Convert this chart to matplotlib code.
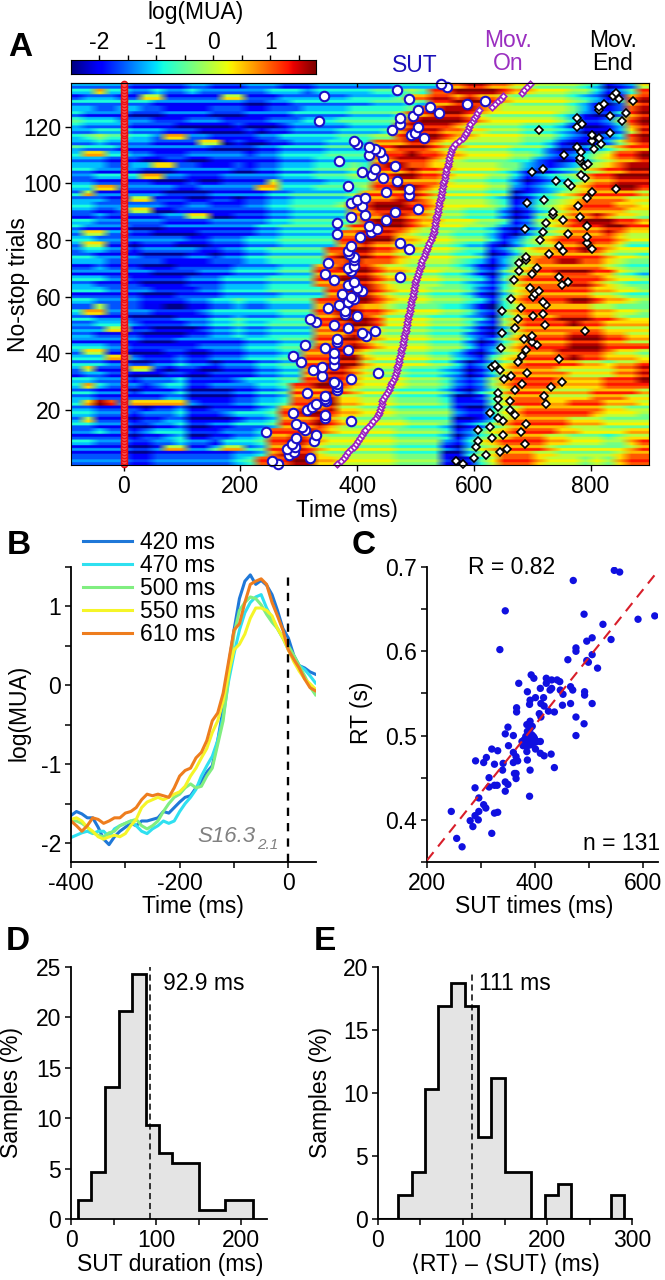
import matplotlib
matplotlib.use("Agg")
import matplotlib.pyplot as plt
import numpy as np

plt.rcParams['font.family'] = ['Liberation Sans', 'DejaVu Sans']
W, H = 665, 1280
n = np.nan

# panel A: colour levels, top row = trials 134-135, 20 ms per cell
heat_rows = """
33333 22222 33222 33322 23333 33344 44889 98877 66665 41237
33733 22322 32222 22333 23333 34445 48899 99877 66655 31248
23332 27722 22277 22233 33334 44458 89989 88766 66654 31289
33333 33222 22222 11223 33333 34445 48899 98766 66654 21389
33223 32211 11222 11222 33334 44445 88999 87666 66653 11289
32222 11122 22111 22223 33334 44458 89998 76666 66542 11389
43332 22111 22211 11222 33344 44458 99998 76666 66531 12589
43333 22221 11112 11123 33334 44489 99987 66665 55421 12489
33444 33322 21111 21223 33344 44589 99887 76665 55431 11379
34544 33277 22111 12233 33344 45589 99877 66665 55321 12389
33433 33222 27712 11223 33444 48889 98776 66665 54211 23689
43332 22222 22111 12233 33444 48899 98776 66655 53112 45788
37733 22111 22222 12233 33444 48889 88776 66655 42123 56889
33322 21122 11222 22233 34444 48899 98776 66655 32124 67889
33322 33772 21112 12233 34445 48998 87766 66553 21235 67899
33222 21112 22221 12233 34445 48889 88766 66542 12346 78899
22333 37722 11122 22233 34445 58899 88766 65531 23457 88999
33222 22111 21122 22733 33445 58888 88766 65531 23457 88999
33772 22221 12222 27733 34444 58899 87666 65521 23467 88998
37222 22211 11222 22334 44445 88889 87666 65512 34678 88887
33322 77222 11221 22334 44445 88899 87666 65412 45678 88877
33222 22211 22111 22334 44458 89998 87666 65412 45678 88776
33223 77112 22222 22334 44448 89999 87665 55312 45788 88877
22322 22233 77112 22334 44448 88998 87665 55312 56788 98776
33222 22211 11222 22334 44445 89998 77666 55412 56789 99887
32222 11122 22222 23344 44458 89998 76665 54212 46788 89988
37733 22111 12222 23344 44488 99987 66655 54213 56788 89877
33222 22222 11222 33344 44488 99977 66655 53124 67888 88766
37722 12221 11222 33344 44488 98877 66654 42135 67889 88755
23322 12222 21122 33444 44889 98877 66654 41246 77889 87666
33222 21111 22122 33444 44899 98876 66655 41247 78888 87665
33322 22211 11222 33444 44889 88876 66654 31357 88998 87655
22322 21112 22223 33344 48899 98776 66654 21367 88888 87655
22222 22111 12223 33344 48889 98776 66554 21467 88999 88654
33322 11111 22233 33444 48899 98776 66554 31478 88888 87665
33222 21111 22233 33444 48889 98766 66554 32478 88899 87655
33322 22111 12233 33444 44889 98766 65554 21467 88888 77665
22222 21112 22233 33344 44889 98766 65554 21478 88888 77655
33222 21111 22334 33444 48889 98766 65554 31478 88899 87765
33733 32211 22334 33444 48899 88766 66554 21578 88888 77666
37722 22111 12333 33344 48899 88766 66554 21578 88888 77665
33222 11112 22334 33344 48899 98666 65554 31578 88999 88766
22333 21111 22334 33444 48889 98666 65554 21578 88898 87777
33377 22111 12334 33444 48899 87666 65554 21478 88888 87777
33222 21111 22334 33444 48889 87666 65553 21478 88899 98877
22222 21112 22222 33344 48899 87666 65553 12578 88899 98877
33322 11111 12222 33344 48889 87666 65553 12578 88899 98888
37722 11122 11222 33344 88998 76666 65542 13678 88999 98776
33377 21112 11222 33344 88899 76666 65532 14678 88898 87776
33322 11223 22122 23344 88999 76666 65531 24678 88887 76778
37222 77212 21122 23344 88998 76665 55431 24788 88777 77889
23322 11122 11222 23344 88998 76665 55431 24788 88877 77889
33222 12223 11112 33344 88987 66665 55421 25788 88777 78889
37322 21233 11222 23348 89987 66665 55421 25788 88777 78888
33222 12223 11112 23348 88987 66655 55421 35788 87777 88887
33222 22233 11112 23348 88977 66655 55411 25788 87777 88877
37982 77777 21112 23348 89977 66655 55411 14688 87788 87776
33222 21223 11222 23488 98977 66655 55521 14678 88888 87766
33222 12223 11123 33488 99877 66655 55521 13678 88888 76665
37222 12233 11112 33488 89876 66665 55511 24788 88877 76666
33222 11223 11223 33488 89876 66665 55412 35788 88877 76666
22322 12333 11122 23888 98766 66655 55412 46788 88776 66677
22222 12234 11223 34889 87666 66655 55413 56788 87766 65677
33222 11223 22133 34889 87666 66655 55213 67888 87766 65578
22222 11277 22477 34889 87666 66655 55214 67888 87666 66678
22222 11222 22223 34899 97666 66655 55114 67888 77666 66788
22222 11222 22223 48889 97766 66655 55101 46888 76665 65788
""".split("\n")
heat_rows = [r.replace(" ", "") for r in heat_rows if r.strip()]
level_values = np.array([-2.45, -2.0, -1.6, -1.15, -0.8, -0.4, 0.0, 0.4, 1.0, 1.6])
# lighter / darker streaks per trial, trial 135 first
trial_gain = "0-+0-0+-00+-0+0-0-+00-+-0+0-00+-+0-0+0-+-00+0-0-+0+-0-0+0-+0-+00-0+-0+-00+-0+0--+0-+0+-0-0+-0+0-0+-+0-0-+0+0-+-00+-0+0-0+-0+-0+0-+-00+"

# trial by trial times (ms), trial 1 first
sut_ms = [265, 254, 320, 284, 292, 280, 294, 289, 326, 295,
          329, 244, 310, 305, 295, 389, 345, 345, 290, 315,
          323, 329, 347, 345, 345, 315, 365, 365, 365, 360,
          389, 340, 435, 324, 340, 360, 304, 360, 290, 360,
          384, 345, 310, 365, 365, 415, 409, 430, 385, 360,
          329, 320, 400, 380, 380, 350, 369, 385, 395, 389,
          375, 409, 400, 385, 395, 360, 474, 345, 389, 384,
          395, 350, 395, 395, 387, 384, 489, 389, 474, n,
          405, 365, 424, 434, 420, 365, 449, 389, 414, 465,
          505, 409, 389, 400, 414, 489, 449, 489, 385, n,
          469, 445, 425, 409, 430, 465, n, 369, 445, 420,
          440, 430, 420, 400, 395, 515, 493, 500, 460, 505,
          474, 334, 474, 495, 540, 505, 525, 589, 619, 489,
          344, n, 469, 554, 544]
mov_on_ms = [365, 372, 377, 381, 385, 390, 394, 398, 402, 405,
             409, 411, 413, 418, 423, 428, 432, 435, 437, 439,
             441, 442, 443, 445, 447, 451, 454, 456, 458, 460,
             463, 465, 466, 468, 469, 470, 471, 472, 473, 475,
             476, 477, 478, 479, 480, 481, 482, 483, 484, 485,
             486, 487, 488, 489, 490, 491, 492, 493, 494, 495,
             496, 497, 498, 499, 500, 501, 503, 505, 506, 508,
             509, 510, 512, 514, 516, 518, 520, 522, 524, 526,
             528, 530, 531, 532, 533, 534, 535, 536, 537, 538,
             539, 540, 541, 542, 543, 544, 545, 546, 547, 548,
             549, 550, 551, 552, 553, 555, 556, 557, 558, 560,
             561, 562, 564, 567, 575, 581, 585, 587, 590, 592,
             594, 598, 600, 604, 606, 609, 631, 636, 641, 646,
             650, 683, 686, 691, 697]
mov_end_ms = [582, 570, 600, 620, 645, 656, 603, 687, 607, 631,
              650, 680, 607, 627, 689, 650, 641, 670, 627, 662,
              641, 723, 662, 641, 720, 641, 671, 732, 682, 751,
              652, 663, 691, 645, 631, 636, 675, 746, 682, n,
              689, 647, 709, 700, 686, 700, 649, 791, 671, 722,
              n, 676, 701, 719, 649, 680, 724, 719, 664, 702,
              705, 711, 696, 751, 762, 669, 746, 700, 678, 709,
              n, 678, 689, 689, 729, 753, 802, 746, 794, 714,
              794, 762, 718, 687, 794, 724, 752, 782, 735, 735,
              n, 778, 691, 720, 794, n, 802, 843, 767, 762,
              740, 790, 783, 700, 718, 790, 796, 781, 782, 754,
              783, 805, 777, 817, 803, 814, 803, 834, 711, 776,
              786, 854, 777, 834, 860, 814, 815, 823, 872, 848,
              838, 844, n, n, n]
stim_ms = [0] * 135
trials = np.arange(1, 136)

# panel B, every 10 ms from -400 to 50
b_time = list(range(-400, 60, 10))
b_420 = [-1.65, -1.6, -1.63, -1.68, -1.68, -1.8, -1.95, -2.02, -1.92, -1.85,
         -1.8, -1.75, -1.78, -1.72, -1.72, -1.7, -1.68, -1.6, -1.62, -1.55,
         -1.48, -1.42, -1.4, -1.3, -1.22, -1.1, -1.02, -0.7, -0.3, 0.25,
         0.7, 1.1, 1.32, 1.4, 1.28, 1.33, 1.27, 1.15, 0.95, 0.72,
         0.6, 0.38, 0.25, 0.22, 0.17, 0.14]
b_470 = [-1.93, -1.9, -1.87, -1.85, -1.88, -1.85, -1.85, -1.92, -1.82, -1.78,
         -1.75, -1.72, -1.78, -1.85, -1.88, -1.82, -1.78, -1.72, -1.75, -1.72,
         -1.6, -1.5, -1.42, -1.32, -1.15, -1.02, -0.9, -0.7, -0.4, 0.05,
         0.4, 0.7, 0.92, 1.05, 1.12, 1.15, 0.98, 0.85, 0.72, 0.6,
         0.45, 0.35, 0.25, 0.2, 0.12, 0.03]
b_500 = [-1.72, -1.72, -1.75, -1.8, -1.87, -1.9, -1.92, -1.87, -1.85, -1.78,
         -1.75, -1.72, -1.7, -1.78, -1.82, -1.78, -1.72, -1.6, -1.5, -1.42,
         -1.38, -1.3, -1.25, -1.3, -1.28, -1.15, -1.05, -0.75, -0.45, 0.1,
         0.65, 0.95, 1.05, 1.12, 1.1, 1.02, 0.9, 0.8, 0.72, 0.6,
         0.5, 0.38, 0.25, 0.12, -0.02, -0.12]
b_550 = [-1.7, -1.68, -1.72, -1.8, -1.85, -1.92, -1.95, -1.92, -1.9, -1.92,
         -1.88, -1.78, -1.7, -1.55, -1.48, -1.45, -1.42, -1.45, -1.42, -1.38,
         -1.35, -1.28, -1.15, -1.05, -0.92, -0.8, -0.6, -0.45, -0.2, 0.15,
         0.45, 0.52, 0.65, 0.85, 0.98, 0.98, 0.95, 0.88, 0.72, 0.6,
         0.45, 0.3, 0.18, 0.08, 0.02, -0.05]
b_610 = [-1.72, -1.78, -1.85, -1.78, -1.68, -1.7, -1.75, -1.72, -1.68, -1.68,
         -1.62, -1.6, -1.55, -1.45, -1.38, -1.4, -1.38, -1.4, -1.42, -1.3,
         -1.15, -1.08, -1.05, -0.92, -0.85, -0.7, -0.45, -0.35, -0.1, 0.3,
         0.7, 0.78, 1.05, 1.28, 1.32, 1.35, 1.28, 1.05, 0.88, 0.7,
         0.45, 0.33, 0.22, 0.08, -0.03, -0.07]
b_labels = ['420 ms', '470 ms', '500 ms', '550 ms', '610 ms']
b_colors = ['#1f78d8', '#2fe0f0', '#80ee80', '#f5f528', '#ee7d1e']

# panel C
sut_times = [245, 255, 265, 280, 285, 289, 295, 296, 305, 309, 320, 325, 331, 289, 296, 315, 315,
             325, 330, 290, 305, 310, 320, 325, 331, 341, 340, 345, 345, 350, 345, 350, 351, 360,
             360, 365, 360, 362, 365, 366, 366, 370, 365, 385, 345, 335, 390, 391, 386, 385, 385,
             376, 381, 389, 394, 401, 410, 410, 417, 430, 436, 388, 394, 399, 385, 391, 395, 391,
             390, 391, 401, 386, 393, 398, 410, 416, 411, 417, 408, 411, 425, 436, 421, 421, 431,
             441, 446, 428, 431, 447, 452, 451, 466, 470, 466, 476, 491, 476, 492, 492, 506, 461,
             476, 476, 496, 499, 506, 496, 506, 516, 491, 526, 541, 471, 547, 557, 591, 622, 380,
             385, 390, 395, 400, 383, 388, 392, 397, 404, 378, 386, 368]
rt_s = [.410, .378, .368, .399, .392, .405, .400, .410, .418, .414, .384, .408, .409, .438, .426,
        .450, .439, .441, .441, .470, .468, .474, .484, .466, .482, .467, .459, .445, .434, .442,
        .502, .510, .488, .500, .480, .475, .468, .455, .449, .533, .528, .562, .455, .497, .648,
        .602, .428, .459, .471, .481, .487, .493, .491, .493, .491, .484, .493, .479, .476, .478,
        .462, .503, .501, .497, .513, .517, .511, .508, .537, .542, .545, .552, .572, .568, .556,
        .545, .538, .535, .526, .522, .529, .528, .568, .562, .566, .566, .564, .554, .556, .554,
        .549, .536, .558, .554, .538, .522, .514, .500, .552, .548, .538, .590, .604, .600, .589,
        .587, .596, .612, .616, .580, .644, .632, .614, .684, .696, .694, .638, .642, .495, .493,
        .495, .494, .492, .499, .490, .489, .499, .493, .488, .505, .470]
fit_x = [200, 625]
fit_y = [.352, .693]

# panels D, E
d_edges = [8, 24, 40, 56, 72, 88, 103, 119, 135, 150, 166, 181, 197, 213]
d_pct = [1.9, 4.7, 13.1, 20.6, 24.3, 9.3, 6.5, 5.6, 5.6, 0.9, 0.9, 1.9, 1.9]
d_mean = 92.9
e_edges = [24, 39.7, 55.4, 71, 86.8, 102.5, 118, 134, 149.5, 165, 181, 196.7, 212.4, 228, 243.8,
           259.5, 275, 291]
e_pct = [1.9, 3.7, 10.3, 16.9, 18.7, 16.9, 6.5, 11.2, 3.7, 3.7, 0, 1.9, 2.8, 0, 0, 0, 1.9]
e_mean = 111

FS = 16.5
fig = plt.figure(figsize=(W / 100, H / 100), dpi=100)


def box(x0, y0, x1, y1):
    return fig.add_axes([x0 / W, 1 - y1 / H, (x1 - x0) / W, (y1 - y0) / H])


def label(x, y, s, **kw):
    kw.setdefault('fontsize', FS)
    kw.setdefault('ha', 'center')
    kw.setdefault('va', 'center')
    fig.text(x / W, 1 - y / H, s, **kw)


def clean(ax):
    ax.spines['top'].set_visible(False)
    ax.spines['right'].set_visible(False)
    ax.spines['left'].set_linewidth(1.3)
    ax.spines['bottom'].set_linewidth(1.3)
    ax.tick_params(labelsize=FS, width=1.1, length=4, pad=3)


# A
levels = np.array([[int(c) for c in r] for r in heat_rows])
gain = trial_gain[:135].ljust(135, '0')
heat = []
for i in range(135):
    row = level_values[levels[min(i // 2, len(levels) - 1)]]
    heat.append(row + {'-': -0.45, '0': 0.0, '+': 0.3}[gain[i]])
heat = np.repeat(np.array(heat), 5, axis=0)
ax = box(71, 83, 649, 465)
ax.imshow(heat, cmap='jet', vmin=-2.5, vmax=1.8, aspect='auto',
          extent=[-90, 900, 0.5, 135.5], interpolation='bilinear')
ax.plot(stim_ms, trials, ls='', marker='o', ms=4.5, mfc='#ff5050', mec='#e81010', mew=1, clip_on=False)
ax.plot(sut_ms, trials, ls='', marker='o', ms=6.8, mfc='white', mec='#1a10c8', mew=1.5, clip_on=False)
ax.plot(mov_on_ms, trials, ls='', marker='D', ms=3.3, mfc='white', mec='#9a20c0', mew=1.2, clip_on=False)
ax.plot(mov_end_ms, trials, ls='', marker='D', ms=4, mfc='white', mec='black', mew=1.2, clip_on=False)
ax.set_xlim(-90, 900)
ax.set_ylim(0.5, 135.5)
ax.set_xticks([0, 200, 400, 600, 800])
ax.set_yticks([20, 40, 60, 80, 100, 120])
ax.tick_params(labelsize=FS, width=1, length=4, pad=3)
top = ax.secondary_xaxis('top')
top.set_xticks([0, 200, 400, 600, 800])
top.set_xticklabels([])
top.tick_params(direction='in', length=3, width=1)

cax = box(71, 60, 316, 74)
grad = np.linspace(-2.5, 1.8, 256).reshape(1, -1)
cax.imshow(grad, cmap='jet', vmin=-2.5, vmax=1.8, aspect='auto', extent=[-2.5, 1.8, 0, 1])
cax.set_yticks([])
cax.set_xticks(np.arange(-2, 2, 0.5))
cax.set_xticklabels(['-2', '', '-1', '', '0', '', '1', ''])
cax.xaxis.tick_top()
cax.tick_params(labelsize=FS, width=1, length=3.5, pad=1)

label(196, 12, 'log(MUA)')
label(415, 65, 'SUT', color='#1a10b8')
label(508, 52, 'Mov.\nOn', color='#9a2fc0', linespacing=1.0)
label(613, 52, 'Mov.\nEnd', color='black', linespacing=1.0)
label(347, 511, 'Time (ms)')
label(19, 285, 'No-stop trials', rotation=90)

# B
ax = box(71, 567, 315.5, 862)
for ys, c, lab in zip([b_420, b_470, b_500, b_550, b_610], b_colors, b_labels):
    ax.plot(b_time, ys, color=c, lw=2.2, label=lab)
ax.plot([0, 0], [-2.24, 1.45], color='black', lw=1.7, ls=(0, (3.5, 3)))
ax.set_xlim(-400, 50)
ax.set_ylim(-2.24, 1.5)
ax.set_xticks([-400, -300, -200, -100, 0])
ax.set_xticklabels(['-400', '', '-200', '', '0'])
ax.set_yticks([-2, -1.5, -1, -0.5, 0, 0.5, 1, 1.5])
ax.set_yticklabels(['-2', '', '-1', '', '0', '', '1', ''])
clean(ax)
ax.legend(loc='upper left', bbox_to_anchor=(83 / W, 1 - 531 / H), bbox_transform=fig.transFigure,
          frameon=False, fontsize=FS, borderpad=0, borderaxespad=0, handlelength=2.14,
          handletextpad=0.35, labelspacing=0.0)
label(197, 837, 'S16.3', color='#808080', fontsize=16, style='italic', ha='left')
label(257, 845, '2.1', color='#808080', fontsize=11, style='italic', ha='left')
label(193, 906, 'Time (ms)')
label(19, 713, 'log(MUA)', rotation=90)

# C
ax = box(427, 567, 658, 862)
ax.plot(fit_x, fit_y, color='#d81e2a', lw=1.5, ls=(0, (5, 3.5)), zorder=3)
ax.scatter(sut_times, rt_s, s=28, color='#1010e0', edgecolors='none', zorder=2)
ax.set_xlim(200, 628)
ax.set_ylim(0.35, 0.7)
ax.set_xticks([200, 300, 400, 500, 600])
ax.set_xticklabels(['200', '', '400', '', '600'])
ax.set_yticks([0.35, 0.4, 0.45, 0.5, 0.55, 0.6, 0.65, 0.7])
ax.set_yticklabels(['', '0.4', '', '0.5', '', '0.6', '', '0.7'])
clean(ax)
label(512, 567, 'R = 0.82')
label(622, 843, 'n = 131')
label(534, 906, 'SUT times (ms)')
label(362, 713, 'RT (s)', rotation=90)

# D
ax = box(71, 967, 267, 1219)
ax.stairs(d_pct, d_edges, fill=True, color='#e4e4e4')
ax.stairs(d_pct, d_edges, color='black', lw=2, baseline=0)
ax.plot([d_mean, d_mean], [0, 25], color='black', lw=1.1, ls=(0, (4, 2.5)))
ax.set_xlim(0, 230)
ax.set_ylim(0, 25)
ax.set_xticks([0, 50, 100, 150, 200])
ax.set_xticklabels(['0', '', '100', '', '200'])
ax.set_yticks([0, 5, 10, 15, 20, 25])
clean(ax)
label(204, 984, '92.9 ms')
label(170, 1265, 'SUT duration (ms)')
label(12, 1093, 'Samples (%)', rotation=90)

# E
ax = box(378, 967, 632, 1219)
ax.stairs(e_pct, e_edges, fill=True, color='#e4e4e4')
ax.stairs(e_pct, e_edges, color='black', lw=2, baseline=0)
ax.plot([0, 300], [0, 0], color='black', lw=2.2)
ax.plot([e_mean, e_mean], [0, 19.6], color='black', lw=1.1, ls=(0, (4, 2.5)))
ax.set_xlim(0, 300)
ax.set_ylim(0, 20)
ax.set_xticks([0, 50, 100, 150, 200, 250, 300])
ax.set_xticklabels(['0', '', '100', '', '200', '', '300'])
ax.set_yticks([0, 5, 10, 15, 20])
clean(ax)
label(515, 984, '111 ms')
label(505, 1265, '\u27e8RT\u27e9 \u2013 \u27e8SUT\u27e9 (ms)')
label(321, 1093, 'Samples (%)', rotation=90)

# panel letters
for s, x, y in [('A', 20, 48), ('B', 19, 546), ('C', 364, 546), ('D', 18, 941), ('E', 325, 941)]:
    label(x, y, s, fontsize=24, fontweight='bold')

fig.savefig('out.png', dpi=100)
